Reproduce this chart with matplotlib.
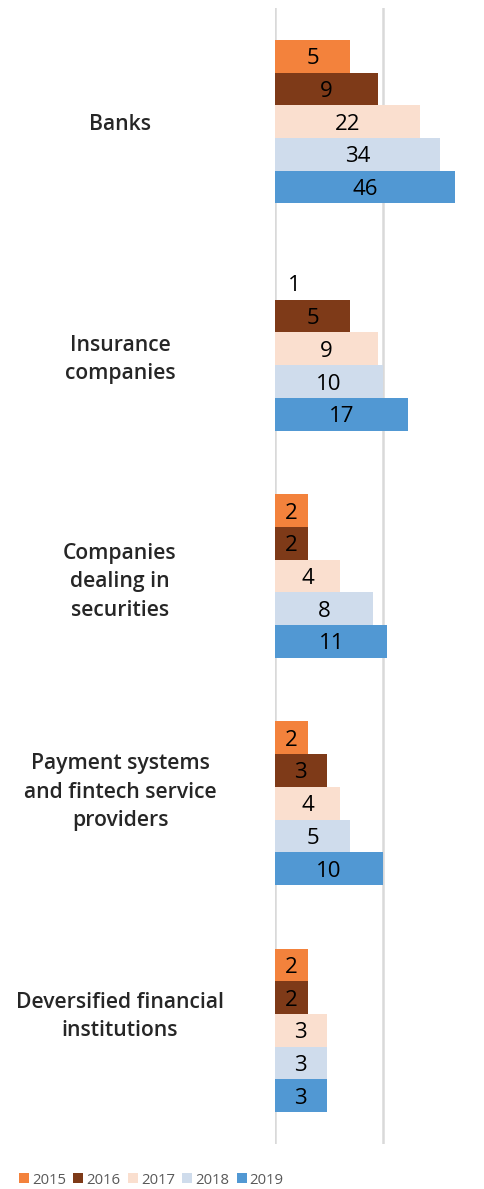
import numpy as np
import matplotlib
matplotlib.use("Agg")
import matplotlib.pyplot as plt
from matplotlib.patches import Patch
from matplotlib.transforms import offset_copy, blended_transform_factory

plt.rcParams['font.family'] = ['Open Sans', 'DejaVu Sans']

categories = ["Banks", "Insurance\ncompanies", "Companies\ndealing in\nsecurities",
              "Payment systems\nand fintech service\nproviders",
              "Deversified financial\ninstitutions"]
years = ["2015", "2016", "2017", "2018", "2019"]
v2015 = [5, 1, 2, 2, 2]
v2016 = [9, 5, 2, 3, 2]
v2017 = [22, 9, 4, 4, 3]
v2018 = [34, 10, 8, 5, 3]
v2019 = [46, 17, 11, 10, 3]
series = [v2015, v2016, v2017, v2018, v2019]
colors = ["#F3823C", "#7E3A18", "#FADFCF", "#CFDCEC", "#5198D3"]

W, H = 484, 1189
fig = plt.figure(figsize=(W / 100, H / 100), dpi=100)
left, right = 275 / W, 478 / W
top, bottom = 1 - 8 / H, 1 - 1144 / H
ax = fig.add_axes([left, bottom, right - left, top - bottom])

ax.set_xscale('log')
xmax = 10 ** ((478 - 275) / 108)
ax.set_xlim(1, xmax)

n = len(categories)
group = 0.72
bh = group / len(years)
ypos = np.arange(n)
for j, (yr, vals, c) in enumerate(zip(years, series, colors)):
    y = ypos - group / 2 + bh * (j + 0.5)
    ax.barh(y, np.array(vals) - 1, left=1, height=bh, color=c, label=yr, zorder=3)
    for yi, v in zip(y, vals):
        if v > 1:
            ax.text(np.sqrt(v), yi, str(v), ha='center', va='center_baseline',
                    fontsize=16, color='black', zorder=4)
        else:
            ax.annotate(str(v), (1, yi), xytext=(14, 0), textcoords='offset points',
                        ha='center', va='center_baseline', fontsize=16, color='black',
                        zorder=4)

ax.set_ylim(n - 0.5, -0.5)
ax.set_yticks([])
ax.tick_params(axis='x', which='both', length=0, labelbottom=False)
ax.set_xticks([1, 10])
ax.set_xticks([], minor=True)
ax.grid(axis='x', which='major', color='#D9D9D9', linewidth=1.8, zorder=0)
for s in ax.spines.values():
    s.set_visible(False)

# category labels: centred at x=120 px, with small per-label vertical shifts (px, +down)
label_shift_px = [3, 11, 6, -11, -14]
base = blended_transform_factory(fig.transFigure, ax.transData)
for yi, cat, d in zip(ypos, categories, label_shift_px):
    tr = offset_copy(base, fig=fig, x=0, y=-d * 0.72, units='points')
    ax.text(120 / W, yi, cat, transform=tr, ha='center', va='center',
            fontsize=15.2, fontweight='semibold', color='#262626',
            linespacing=1.45, multialignment='center')

handles = [Patch(facecolor=c, edgecolor='none') for c in colors]
fig.legend(handles, years, loc='center left', bbox_to_anchor=(19 / W, 1 - 1180 / H),
           ncol=5, frameon=False, fontsize=10.7, handlelength=0.67, handleheight=0.67,
           handletextpad=0.2, columnspacing=0.5, labelcolor='#595959',
           borderaxespad=0, borderpad=0)

fig.savefig("out.png", dpi=100)
